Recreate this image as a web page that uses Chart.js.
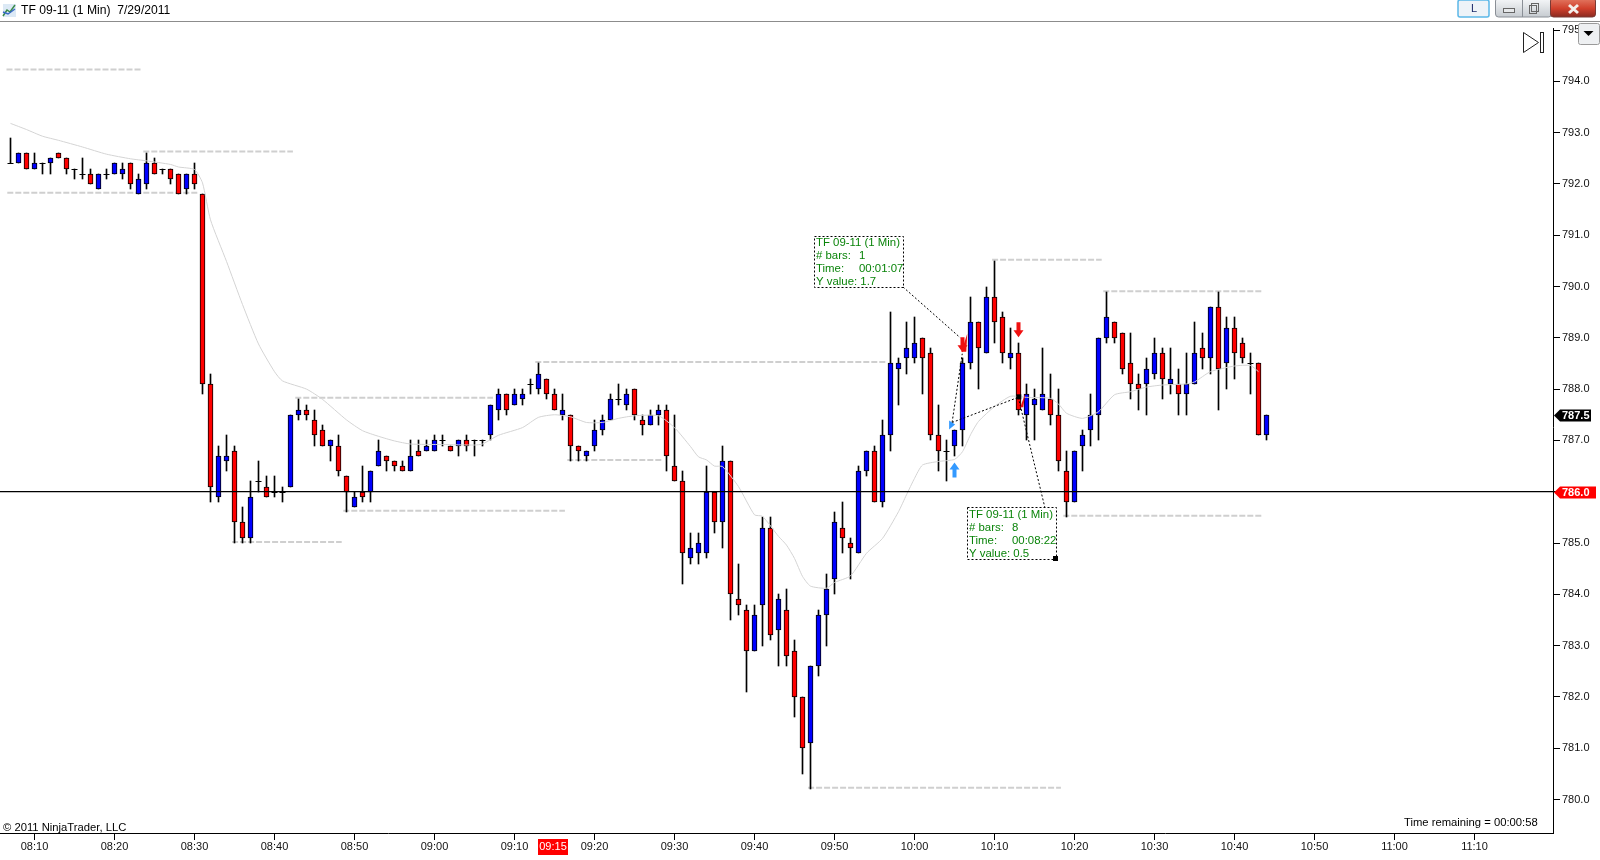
<!DOCTYPE html>
<html>
<head>
<meta charset="utf-8">
<title>TF 09-11 (1 Min)</title>
<script src="https://cdn.jsdelivr.net/npm/chart.js@4/dist/chart.umd.min.js"></script>
<style>
html, body { margin: 0; padding: 0; background: #fff; }
canvas { display: block; }
</style>
</head>
<body>
<canvas id="chart" width="1600" height="860"></canvas>
<script>
// bars are one minute apart, first bar is 08:07
const firstBarMinute = 487;

const opens = [
  792.4, 792.4, 792.6, 792.3, 792.4, 792.4, 792.6, 792.5, 792.3, 792.2,
  792.2, 791.9, 792.2, 792.2, 792.2, 792.4, 791.8, 792.0, 792.4, 792.3,
  792.3, 792.2, 791.9, 792.2, 791.8, 788.1, 785.9, 786.6, 786.8, 785.4,
  785.1, 786.2, 786.1, 786.0, 786.0, 786.1, 787.5, 787.6, 787.4, 787.2,
  786.9, 786.9, 786.3, 785.7, 786.0, 786.0, 786.5, 786.7, 786.6, 786.5,
  786.4, 786.8, 786.8, 786.8, 787.0, 786.9, 786.9, 787.0, 787.0, 787.0,
  787.1, 787.6, 787.9, 787.7, 787.8, 788.1, 788.0, 788.2, 787.9, 787.5,
  787.5, 786.9, 786.7, 786.9, 787.2, 787.4, 787.8, 787.7, 788.0, 787.4,
  787.3, 787.5, 787.6, 786.5, 786.2, 784.7, 784.8, 784.8, 786.0, 785.4,
  786.6, 783.9, 783.7, 782.9, 783.8, 785.3, 783.3, 783.7, 782.9, 782.0,
  781.1, 782.6, 783.6, 784.3, 785.3, 785.0, 784.8, 786.4, 786.8, 785.8,
  787.1, 788.4, 788.6, 788.6, 789.0, 788.7, 787.1, 786.8, 786.9, 787.2,
  788.5, 789.3, 788.7, 789.8, 789.4, 788.6, 788.7, 787.5, 787.7, 787.6,
  787.8, 787.5, 786.4, 785.8, 786.9, 787.2, 787.5, 789.0, 789.3, 789.1,
  788.5, 788.1, 788.1, 788.3, 788.7, 788.1, 788.1, 787.9, 788.1, 788.8,
  788.6, 789.6, 788.5, 789.2, 788.9, 788.5, 788.5, 787.1
];
const highs = [
  792.9, 792.6, 792.6, 792.6, 792.4, 792.5, 792.6, 792.5, 792.3, 792.5,
  792.3, 792.2, 792.3, 792.4, 792.4, 792.4, 792.2, 792.6, 792.5, 792.3,
  792.3, 792.2, 792.2, 792.4, 791.8, 788.3, 786.9, 787.1, 786.9, 785.7,
  786.2, 786.6, 786.3, 786.3, 786.1, 787.5, 787.8, 787.7, 787.6, 787.3,
  787.0, 787.1, 786.3, 786.0, 786.5, 786.4, 787.0, 786.7, 786.6, 786.6,
  787.0, 787.0, 787.0, 787.1, 787.1, 786.9, 787.0, 787.1, 787.0, 787.0,
  787.7, 788.0, 787.9, 788.0, 788.0, 788.2, 788.5, 788.2, 788.0, 787.9,
  787.5, 786.9, 786.8, 787.4, 787.5, 787.9, 788.1, 788.0, 788.0, 787.5,
  787.6, 787.7, 787.7, 787.5, 786.4, 785.2, 785.2, 786.5, 786.0, 786.9,
  786.6, 784.6, 783.8, 783.8, 785.5, 785.5, 784.0, 784.1, 783.1, 782.0,
  782.6, 783.7, 784.4, 785.6, 785.8, 785.1, 786.5, 786.8, 786.9, 787.4,
  789.5, 788.6, 789.3, 789.4, 789.0, 788.8, 787.7, 787.0, 787.2, 788.6,
  789.8, 789.3, 790.0, 790.5, 789.5, 789.2, 788.9, 788.1, 788.0, 788.8,
  788.3, 788.0, 786.8, 786.8, 787.2, 787.9, 789.0, 789.9, 789.3, 789.1,
  789.1, 788.3, 788.6, 789.0, 788.8, 788.8, 788.4, 788.7, 789.3, 789.1,
  789.6, 789.9, 789.4, 789.4, 789.0, 788.7, 788.5, 787.5
];
const lows = [
  792.4, 792.4, 792.3, 792.3, 792.2, 792.2, 792.5, 792.2, 792.1, 792.1,
  792.0, 791.9, 792.1, 792.2, 792.1, 791.9, 791.8, 791.9, 792.2, 792.2,
  792.0, 791.8, 791.8, 791.9, 787.9, 785.8, 785.8, 786.4, 785.0, 785.0,
  785.0, 786.0, 785.9, 785.9, 785.8, 786.1, 787.4, 787.4, 786.9, 786.9,
  786.6, 786.3, 785.6, 785.7, 785.8, 785.8, 786.5, 786.4, 786.4, 786.4,
  786.4, 786.7, 786.8, 786.8, 786.9, 786.8, 786.7, 786.8, 786.7, 786.9,
  787.0, 787.4, 787.5, 787.7, 787.7, 787.9, 787.9, 787.8, 787.6, 787.4,
  786.6, 786.6, 786.6, 786.8, 787.1, 787.4, 787.7, 787.6, 787.4, 787.1,
  787.3, 787.3, 786.4, 786.2, 784.2, 784.6, 784.6, 784.7, 785.2, 784.9,
  783.5, 783.6, 782.1, 782.9, 783.0, 783.1, 782.6, 782.6, 781.6, 780.5,
  780.2, 782.4, 783.0, 784.0, 784.8, 784.3, 784.8, 786.3, 785.8, 785.7,
  786.8, 787.7, 788.3, 788.5, 787.9, 787.0, 786.4, 786.2, 786.7, 786.9,
  788.4, 788.0, 788.7, 788.9, 788.5, 788.4, 787.5, 787.0, 787.0, 787.6,
  787.3, 786.4, 785.5, 785.8, 786.4, 786.9, 787.0, 788.9, 788.9, 788.3,
  787.8, 787.6, 787.5, 788.2, 787.8, 787.9, 787.5, 787.5, 788.1, 788.4,
  788.3, 787.6, 788.0, 788.2, 788.5, 787.9, 787.1, 787.0
];
const closes = [
  792.4, 792.6, 792.3, 792.4, 792.4, 792.5, 792.5, 792.3, 792.3, 792.2,
  792.0, 792.2, 792.2, 792.4, 792.3, 792.0, 792.1, 792.4, 792.2, 792.3,
  792.1, 791.8, 792.2, 792.0, 788.1, 786.1, 786.7, 786.7, 785.4, 785.1,
  785.9, 786.2, 785.9, 786.0, 786.0, 787.5, 787.6, 787.5, 787.1, 786.9,
  787.0, 786.4, 786.0, 785.9, 785.9, 786.4, 786.8, 786.6, 786.5, 786.4,
  786.7, 786.7, 786.9, 787.0, 787.0, 786.8, 787.0, 786.9, 787.0, 787.0,
  787.7, 787.9, 787.6, 787.9, 787.9, 788.1, 788.3, 787.9, 787.6, 787.6,
  786.9, 786.8, 786.8, 787.2, 787.4, 787.8, 787.8, 787.9, 787.5, 787.3,
  787.5, 787.6, 786.7, 786.2, 784.8, 784.9, 785.0, 786.0, 785.4, 786.6,
  784.0, 783.8, 782.9, 783.6, 785.3, 783.2, 783.9, 782.8, 782.0, 781.0,
  782.6, 783.6, 784.1, 785.4, 785.1, 784.9, 786.4, 786.8, 785.8, 787.1,
  788.5, 788.5, 788.8, 788.9, 788.6, 787.1, 786.8, 786.8, 787.2, 788.5,
  789.3, 788.8, 789.8, 789.3, 788.7, 788.7, 787.6, 787.9, 787.8, 787.9,
  787.5, 786.6, 785.8, 786.8, 787.1, 787.5, 789.0, 789.4, 789.0, 788.4,
  788.1, 788.0, 788.4, 788.7, 788.2, 788.2, 787.9, 788.1, 788.7, 788.6,
  789.6, 788.4, 789.2, 788.7, 788.6, 788.5, 787.1, 787.5
];

const maBars = [
  0, 2, 4, 6, 9, 12, 15, 17, 20, 21, 23, 24, 25, 27, 29, 31, 33, 34, 37, 39,
  42, 44, 46, 48, 50, 54, 58, 59, 61, 64, 66, 68, 70, 72, 74, 76, 78, 81, 83,
  85, 86, 87, 88, 89, 91, 93, 94, 96, 97, 98, 99, 100, 102, 103, 105, 107,
  109, 111, 112, 113, 114, 116, 118, 119, 120, 121, 123, 125, 127, 130, 131,
  132, 134, 136, 138, 140, 142, 144, 147, 148, 150, 153, 155, 156
];
const maValues = [
  793.18, 793.06, 792.93, 792.85, 792.72, 792.58, 792.49, 792.45, 792.38, 792.33,
  792.28, 792.02, 791.3, 790.49, 789.65, 788.88, 788.34, 788.16, 788.0, 787.8,
  787.4, 787.19, 787.08, 786.99, 786.93, 786.92, 786.91, 786.93, 787.1, 787.25,
  787.45, 787.5, 787.46, 787.35, 787.35, 787.43, 787.48, 787.48, 787.25,
  786.88, 786.68, 786.62, 786.5, 786.49, 786.1, 785.55, 785.52, 785.13, 784.96,
  784.7, 784.35, 784.16, 784.12, 784.23, 784.36, 784.8,
  785.09, 785.61, 785.94, 786.26, 786.52, 786.59, 786.63, 786.78, 787.11, 787.37,
  787.66, 787.86, 787.84, 787.82, 787.71, 787.53, 787.43, 787.56, 787.89, 787.95,
  788.04, 788.08, 788.1, 788.14, 788.34, 788.45, 788.46, 788.34
];

// dashed high/low levels
const levelPrices = [794.23, 792.63, 791.83, 787.83, 785.63, 785.02, 788.53, 786.62, 780.23, 790.52, 789.91, 785.53];
const levelStarts = [486.5, 503.6, 486.6, 522.6, 528.6, 514.7, 552.6, 556.6, 586.7, 609.7, 623.6, 618.6];
const levelEnds = [503.3, 522.3, 510.4, 547.3, 556.3, 528.4, 596.4, 568.5, 618.3, 623.4, 643.4, 643.4];

const lastPrice = 787.5;
const markerPrice = 786.0;
const clockLabelMinute = 555;

// measuring tool anchors
const measureMinutes = [604.7, 605.97, 612.97, 616.3];
const measurePrices = [787.35, 788.69, 787.84, 785.69];
const callout1Lines = ['TF 09-11 (1 Min)', '# bars:', 'Time:', 'Y value: 1.7'];
const callout1Values = ['', '1', '00:01:07', ''];
const callout2Lines = ['TF 09-11 (1 Min)', '# bars:', 'Time:', 'Y value: 0.5'];
const callout2Values = ['', '8', '00:08:22', ''];

const xMin = 485.6875;
const xMax = 679.8125;
const yMin = 779.347;
const yMax = 795.176;
const FONT = '"Liberation Sans", Arial, sans-serif';

const barMinutes = opens.map((o, i) => firstBarMinute + i);
const bodiesWhere = test => opens.reduce((out, o, i) => {
    if (test(o, closes[i])) out.push({ x: barMinutes[i], y: [Math.min(o, closes[i]), Math.max(o, closes[i])] });
    return out;
}, []);
const wicks = barMinutes.map((m, i) => ({ x: m, y: [lows[i], highs[i]] }));
const dojis = barMinutes.map((m, i) => ({ x: m, y: opens[i] })).filter((d, i) => opens[i] === closes[i]);
const maLine = maBars.map((b, i) => ({ x: firstBarMinute + b, y: maValues[i] }));

const levelSets = levelPrices.map((p, i) => ({
    type: 'line',
    data: [{ x: levelStarts[i], y: p }, { x: levelEnds[i], y: p }],
    borderColor: '#cfcfcf',
    borderWidth: 2,
    borderDash: [6, 2],
    pointRadius: 0,
    order: 6
}));

function arrow(ctx, x, tipY, dir, color) {
    // dir = 1 points up, -1 points down
    const len = 15;
    ctx.fillStyle = color;
    ctx.beginPath();
    ctx.moveTo(x, tipY);
    ctx.lineTo(x + 5, tipY + dir * 7);
    ctx.lineTo(x + 2, tipY + dir * 7);
    ctx.lineTo(x + 2, tipY + dir * len);
    ctx.lineTo(x - 2, tipY + dir * len);
    ctx.lineTo(x - 2, tipY + dir * 7);
    ctx.lineTo(x - 5, tipY + dir * 7);
    ctx.closePath();
    ctx.fill();
}

function callout(ctx, x, y, w, h, lines, values, valueX, textTop) {
    ctx.fillStyle = '#fff';
    ctx.fillRect(x, y, w, h);
    ctx.setLineDash([2, 2]);
    ctx.strokeStyle = '#000';
    ctx.lineWidth = 1;
    ctx.strokeRect(x + 0.5, y + 0.5, w, h);
    ctx.setLineDash([]);
    ctx.font = '11.4px ' + FONT;
    ctx.fillStyle = '#0a840a';
    ctx.textAlign = 'left';
    ctx.textBaseline = 'middle';
    lines.forEach((t, i) => {
        ctx.fillText(t, x + 2, y + textTop + i * 13);
        if (values[i]) ctx.fillText(values[i], valueX, y + textTop + i * 13);
    });
}

// the platform draws candles on whole pixels
const snapBars = {
    id: 'snapBars',
    beforeDatasetsDraw(chart) {
        [0, 1, 2].forEach(i => {
            chart.getDatasetMeta(i).data.forEach(el => {
                el.y = Math.round(el.y);
                el.base = Math.round(el.base);
            });
        });
        chart.getDatasetMeta(3).data.forEach(el => {
            el.y = Math.round(el.y) + 0.5;
        });
    }
};

const overlay = {
    id: 'overlay',
    afterDraw(chart) {
        const ctx = chart.ctx;
        const xs = chart.scales.x;
        const ys = chart.scales.y;
        const px = m => xs.getPixelForValue(m);
        const py = v => ys.getPixelForValue(v);
        ctx.save();

        // measuring tool lines
        const pts = measureMinutes.map((m, i) => [px(m), py(measurePrices[i])]);
        ctx.strokeStyle = '#000';
        ctx.lineWidth = 1;
        ctx.setLineDash([2, 2]);
        ctx.beginPath();
        ctx.moveTo(903, 287); ctx.lineTo(pts[1][0] - 2, pts[1][1] - 16);
        ctx.moveTo(pts[0][0], pts[0][1]); ctx.lineTo(pts[1][0], pts[1][1]);
        ctx.moveTo(pts[0][0], pts[0][1]); ctx.lineTo(pts[2][0], pts[2][1]);
        ctx.moveTo(pts[2][0], pts[2][1]); ctx.lineTo(pts[3][0], pts[3][1]);
        ctx.stroke();
        ctx.setLineDash([]);

        // trade arrows
        arrow(ctx, px(firstBarMinute + 118), py(786.57), 1, '#3399ff');
        arrow(ctx, px(firstBarMinute + 119), py(788.72), -1, '#f01010');
        arrow(ctx, px(firstBarMinute + 126), py(789.01), -1, '#f01010');

        // entry/exit ticks next to the measuring points
        ctx.fillStyle = '#3399ff';
        ctx.beginPath();
        ctx.moveTo(pts[0][0] - 3, pts[0][1] - 2);
        ctx.lineTo(pts[0][0] + 3, pts[0][1] + 2);
        ctx.lineTo(pts[0][0] - 3, pts[0][1] + 7);
        ctx.closePath();
        ctx.fill();
        ctx.fillStyle = '#f01010';
        ctx.beginPath();
        ctx.moveTo(pts[2][0] + 2, pts[2][1] + 10);
        ctx.lineTo(pts[2][0] + 7, pts[2][1] - 4);
        ctx.lineTo(pts[2][0] + 5, pts[2][1] + 10);
        ctx.closePath();
        ctx.fill();
        ctx.beginPath();
        ctx.moveTo(pts[1][0] - 1, pts[1][1] - 2);
        ctx.lineTo(pts[1][0] + 5, pts[1][1] - 20);
        ctx.lineTo(pts[1][0] + 4, pts[1][1] - 2);
        ctx.closePath();
        ctx.fill();
        ctx.fillStyle = '#000';
        ctx.fillRect(pts[2][0] - 2, pts[2][1] - 3, 5, 5);

        // callouts
        callout(ctx, 814, 236, 89, 51, callout1Lines, callout1Values, 859, 7);
        callout(ctx, 967, 507, 89, 52, callout2Lines, callout2Values, 1012, 8);
        ctx.fillStyle = '#000';
        ctx.fillRect(1053, 556, 5, 5);

        // right axis flags
        ctx.font = 'bold 11px ' + FONT;
        ctx.textAlign = 'left';
        ctx.textBaseline = 'middle';
        const flag = (v, w, color) => {
            const y = Math.round(py(v)) + 0.5;
            ctx.fillStyle = color;
            ctx.beginPath();
            ctx.moveTo(1554, y);
            ctx.lineTo(1560, y - 6);
            ctx.lineTo(1554 + w, y - 6);
            ctx.lineTo(1554 + w, y + 6);
            ctx.lineTo(1560, y + 6);
            ctx.closePath();
            ctx.fill();
            ctx.fillStyle = '#fff';
            ctx.fillText(v.toFixed(1), 1562, y + 0.5);
        };
        flag(lastPrice, 37, '#000');
        flag(markerPrice, 42, '#ff0000');

        // clock label on the time axis
        ctx.fillStyle = '#ff0000';
        ctx.fillRect(538, 839, 30, 16);
        ctx.fillStyle = '#fff';
        ctx.textAlign = 'center';
        ctx.font = '11px ' + FONT;
        ctx.fillText('09:15', px(clockLabelMinute) - 1.5, 847);

        // chart corner texts
        ctx.fillStyle = '#000';
        ctx.textAlign = 'left';
        ctx.font = '11.25px ' + FONT;
        ctx.fillText('\u00a9 2011 NinjaTrader, LLC', 3, 828);
        ctx.fillText('Time remaining = 00:00:58', 1404, 823);

        // window title bar
        ctx.fillStyle = '#fff';
        ctx.fillRect(0, 0, 1600, 21);
        ctx.fillRect(1549, 22, 8, 6);
        ctx.fillStyle = '#8c8c8c';
        ctx.fillRect(0, 21, 1600, 1);
        ctx.fillStyle = '#000';
        ctx.font = '12.15px ' + FONT;
        ctx.fillText('TF 09-11 (1 Min)  7/29/2011', 21, 11);

        // chart icon in the title bar
        ctx.fillStyle = '#dce9f5';
        ctx.fillRect(3, 4, 13, 13);
        ctx.strokeStyle = '#3a8a4a';
        ctx.lineWidth = 1.5;
        ctx.beginPath();
        ctx.moveTo(3, 16); ctx.lineTo(7, 10); ctx.lineTo(10, 12); ctx.lineTo(15, 5);
        ctx.stroke();
        ctx.strokeStyle = '#3a6ac8';
        ctx.beginPath();
        ctx.moveTo(3, 12); ctx.lineTo(8, 14); ctx.lineTo(15, 9);
        ctx.stroke();

        // L button
        ctx.fillStyle = '#eef3f8';
        ctx.strokeStyle = '#5cb8e8';
        ctx.lineWidth = 1.5;
        ctx.beginPath();
        ctx.roundRect(1458, 0, 31, 17, 2);
        ctx.fill();
        ctx.stroke();
        ctx.fillStyle = '#1a2a6a';
        ctx.textAlign = 'center';
        ctx.font = '11px ' + FONT;
        ctx.fillText('L', 1474, 9);

        // min/restore/close
        const grad = ctx.createLinearGradient(0, 0, 0, 17);
        grad.addColorStop(0, '#f2f4f6');
        grad.addColorStop(1, '#c6cbd0');
        ctx.fillStyle = grad;
        ctx.strokeStyle = '#8a8f96';
        ctx.lineWidth = 1;
        ctx.beginPath();
        ctx.roundRect(1495.5, -2, 56, 19, 3);
        ctx.fill();
        ctx.stroke();
        ctx.beginPath();
        ctx.moveTo(1522.5, 0); ctx.lineTo(1522.5, 17);
        ctx.stroke();
        ctx.strokeStyle = '#666';
        ctx.fillStyle = '#e6e8ea';
        ctx.fillRect(1503.5, 8.5, 11, 4);
        ctx.strokeRect(1503.5, 8.5, 11, 4);
        ctx.strokeRect(1531.5, 3.5, 7, 8);
        ctx.strokeRect(1529.5, 5.5, 7, 8);
        const red = ctx.createLinearGradient(0, 0, 0, 17);
        red.addColorStop(0, '#e0705a');
        red.addColorStop(0.5, '#d0402c');
        red.addColorStop(1, '#8a2a20');
        ctx.fillStyle = red;
        ctx.strokeStyle = '#7a3a34';
        ctx.beginPath();
        ctx.roundRect(1550.5, -2, 45, 19, 3);
        ctx.fill();
        ctx.stroke();
        ctx.strokeStyle = '#f4f0ec';
        ctx.lineWidth = 3;
        ctx.beginPath();
        ctx.moveTo(1569, 5); ctx.lineTo(1578, 13);
        ctx.moveTo(1578, 5); ctx.lineTo(1569, 13);
        ctx.stroke();

        // dropdown button over the axis
        ctx.fillStyle = '#eef0f2';
        ctx.strokeStyle = '#9a9a9a';
        ctx.lineWidth = 1;
        ctx.beginPath();
        ctx.roundRect(1578.5, 23.5, 21, 21, 2);
        ctx.fill();
        ctx.stroke();
        ctx.fillStyle = '#000';
        ctx.beginPath();
        ctx.moveTo(1583.5, 31); ctx.lineTo(1593.5, 31); ctx.lineTo(1588.5, 36);
        ctx.closePath();
        ctx.fill();

        // skip to end icon
        ctx.strokeStyle = '#222';
        ctx.beginPath();
        ctx.moveTo(1523.5, 32.5); ctx.lineTo(1538.5, 42.5); ctx.lineTo(1523.5, 52.5);
        ctx.closePath();
        ctx.stroke();
        ctx.strokeRect(1540.5, 32.5, 3, 20);

        ctx.restore();
    }
};

new Chart(document.getElementById('chart'), {
    type: 'bar',
    data: {
        datasets: [
            { data: wicks, backgroundColor: '#000', barThickness: 1, grouped: false, borderWidth: 0, order: 5 },
            { data: bodiesWhere((o, c) => c > o), backgroundColor: '#0000ff', borderColor: '#000', borderWidth: 1, borderSkipped: false, barThickness: 5, grouped: false, order: 4 },
            { data: bodiesWhere((o, c) => c < o), backgroundColor: '#ff0000', borderColor: '#000', borderWidth: 1, borderSkipped: false, barThickness: 5, grouped: false, order: 4 },
            { type: 'scatter', data: dojis, pointStyle: 'line', pointRadius: 3, pointBorderColor: '#000', pointBorderWidth: 1, borderColor: '#000', order: 3 },
            { type: 'line', data: maLine, borderColor: '#d4d4d4', borderWidth: 1, pointRadius: 0, tension: 0.2, order: 2 },
            { type: 'line', data: [{ x: xMin, y: markerPrice }, { x: xMax, y: markerPrice }], borderColor: '#000', borderWidth: 1.2, pointRadius: 0, order: 1 }
        ].concat(levelSets)
    },
    options: {
        responsive: false,
        animation: false,
        events: [],
        layout: { autoPadding: false, padding: { top: 21, left: 0, right: 0, bottom: 0 } },
        plugins: { legend: { display: false }, tooltip: { enabled: false }, title: { display: false } },
        scales: {
            x: {
                type: 'linear',
                offset: false,
                min: xMin,
                max: xMax,
                afterFit: s => { s.height = 27; s.paddingLeft = 0; s.paddingRight = 0; },
                grid: { offset: false, drawOnChartArea: false, tickLength: 7, tickColor: '#000' },
                border: { color: '#000', width: 1 },
                ticks: {
                    stepSize: 10,
                    includeBounds: false,
                    autoSkip: false,
                    maxRotation: 0,
                    padding: 0,
                    color: '#111',
                    font: { family: FONT, size: 11 },
                    callback: v => String(Math.floor(v / 60)).padStart(2, '0') + ':' + String(v % 60).padStart(2, '0')
                }
            },
            y: {
                position: 'right',
                min: yMin,
                max: yMax,
                afterFit: s => { s.width = 47; s.paddingTop = 0; s.paddingBottom = 0; },
                grid: { drawOnChartArea: false, tickLength: 7, tickColor: '#000' },
                border: { color: '#000', width: 1 },
                ticks: {
                    stepSize: 1,
                    includeBounds: false,
                    padding: 2,
                    color: '#111',
                    font: { family: FONT, size: 11 },
                    callback: v => v.toFixed(1)
                }
            }
        }
    },
    plugins: [snapBars, overlay]
});
</script>
</body>
</html>
